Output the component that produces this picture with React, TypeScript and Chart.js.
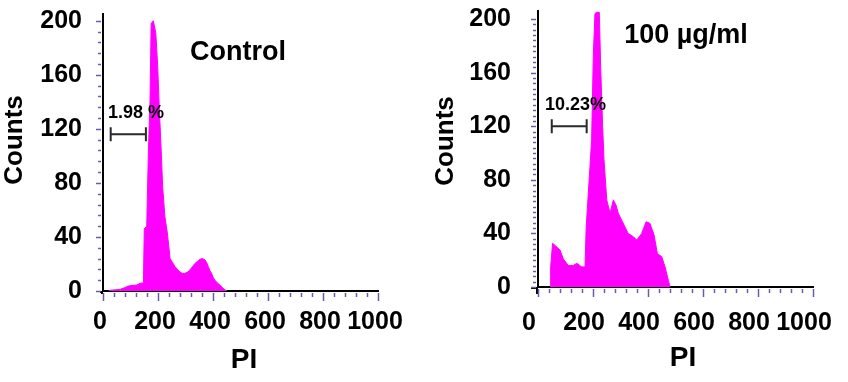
import React, { useEffect, useRef } from 'react';
import { Chart, registerables } from 'chart.js';

Chart.register(...registerables);

// ---- Data ----
const xTickValues = [0, 200, 400, 600, 800, 1000];
const yTickValues = [0, 40, 80, 120, 160, 200];

const piControl = [20, 25, 40, 62, 80, 92, 110, 122, 135, 147, 150, 159, 165, 171, 175, 183, 192, 199, 205, 211, 217, 225, 234, 244, 253, 262, 271, 280, 289, 298, 307, 316, 325, 335, 344, 353, 362, 371, 377, 383, 389, 395, 401, 407, 416, 425, 434, 444, 452];
const countsControl = [0, 0.5, 0.8, 1.2, 2.5, 3.7, 4.2, 4.4, 5.7, 6, 46, 48, 103, 141, 198, 200, 191, 166, 134, 107, 77, 55, 43, 24, 21, 18, 16, 14, 13, 13, 14, 15.6, 18, 20.5, 22, 23.5, 24, 23, 21, 18, 15, 13, 10, 8, 6, 4.4, 2.5, 0.7, 0];

const pi100 = [44, 46, 53, 62, 80, 92, 110, 128, 141, 159, 171, 175, 189, 195, 201, 207, 213, 223, 228, 235, 240, 250, 262, 274, 284, 292, 304, 316, 328, 347, 359, 377, 393, 407, 422, 434, 450, 462, 474, 480];
const counts100 = [0, 15, 32.6, 31, 27.6, 21, 16, 16, 17.7, 15, 15, 43.8, 90, 110, 172, 204, 205, 205, 164, 120, 95, 65, 55, 65, 61, 55, 50, 45, 40, 37.5, 35, 40, 48.7, 47.5, 38.8, 25, 22.6, 15, 5, 0];

const panelTitles = ['Control', '100 µg/ml'];
const gateLabels = ['1.98 %', '10.23%'];
const gateRanges = [[28, 156, 116], [50, 177, 120]]; // PI from, PI to, count level
const gateTextAnchors = [[18, 128], [25, 132]]; // PI, count
const titleAnchors = [[491, 171], [538, 182]]; // PI, count
const xTitle = 'PI';
const yTitle = 'Counts';

const FONT = '"Liberation Sans", Arial, Helvetica, sans-serif';
const MAGENTA = '#ff00ff';

type Panel = {
  pi: number[];
  counts: number[];
  idx: number;
  yMax: number;
  padTop: number;
  padRight: number;
  yWidth: number;
  xHeight: number;
  yTickPad: number;
  xTickPad: number;
  xLabelOffset: number;
  yMinor: number;
  countsAt: [number, number];
  piAt: [number, number];
  overshoot: number;
};

const panels: Panel[] = [
  {
    pi: piControl, counts: countsControl, idx: 0,
    yMax: 205, padTop: 14, padRight: 46, yWidth: 103, xHeight: 91,
    yTickPad: 21, xTickPad: 16, xLabelOffset: -3, yMinor: 8,
    countsAt: [15, 140], piAt: [244, 360], overshoot: 3,
  },
  {
    pi: pi100, counts: counts100, idx: 1,
    yMax: 206, padTop: 11, padRight: 35, yWidth: 114, xHeight: 95,
    yTickPad: 27, xTickPad: 21, xLabelOffset: -9, yMinor: 4,
    countsAt: [22, 141], piAt: [259, 358], overshoot: 7,
  },
];

const decorPlugin = {
  id: 'decor',
  afterDraw(chart: any, _args: any, opts: any) {
    const p: Panel = opts.panel;
    const { ctx, chartArea: a } = chart;
    const x = chart.scales.x;
    const y = chart.scales.y;
    ctx.save();

    // axis overshoot (origin cross)
    ctx.strokeStyle = '#000';
    ctx.lineWidth = 2;
    ctx.beginPath();
    ctx.moveTo(a.left - p.overshoot, a.bottom + 1);
    ctx.lineTo(a.left, a.bottom + 1);
    ctx.moveTo(a.left - 1, a.bottom);
    ctx.lineTo(a.left - 1, a.bottom + p.overshoot);
    ctx.stroke();

    // minor/major ticks on x
    ctx.strokeStyle = '#6b5bb0';
    ctx.lineWidth = 1.5;
    for (let v = 0; v <= 1000; v += 40) {
      const px = Math.round(x.getPixelForValue(v)) + 0.5;
      const major = v % 200 === 0;
      ctx.beginPath();
      ctx.moveTo(px, a.bottom + 2);
      ctx.lineTo(px, a.bottom + (major ? 10 : 6));
      ctx.stroke();
    }
    // minor ticks on y
    for (let v = 0; v <= 200; v += p.yMinor) {
      const py = Math.round(y.getPixelForValue(v)) + 0.5;
      const major = v % 40 === 0;
      ctx.beginPath();
      ctx.moveTo(a.left - 2, py);
      ctx.lineTo(a.left - (major ? 7 : 5), py);
      ctx.stroke();
    }

    // axis titles
    ctx.fillStyle = '#000';
    ctx.textAlign = 'center';
    ctx.textBaseline = 'middle';
    ctx.font = `bold 26px ${FONT}`;
    ctx.save();
    ctx.translate(p.countsAt[0], p.countsAt[1]);
    ctx.rotate(-Math.PI / 2);
    ctx.fillText(yTitle, 0, 0);
    ctx.restore();
    ctx.font = `bold 28px ${FONT}`;
    ctx.fillText(xTitle, p.piAt[0], p.piAt[1]);

    // panel title
    const t = titleAnchors[p.idx];
    ctx.textBaseline = 'alphabetic';
    ctx.font = `bold 27px ${FONT}`;
    ctx.fillText(panelTitles[p.idx], x.getPixelForValue(t[0]), y.getPixelForValue(t[1]));

    // gate label
    const g = gateTextAnchors[p.idx];
    ctx.textAlign = 'left';
    ctx.font = `bold 18px ${FONT}`;
    ctx.fillText(gateLabels[p.idx], x.getPixelForValue(g[0]), y.getPixelForValue(g[1]));

    // gate bracket
    const r = gateRanges[p.idx];
    const x0 = x.getPixelForValue(r[0]);
    const x1 = x.getPixelForValue(r[1]);
    const gy = y.getPixelForValue(r[2]);
    ctx.strokeStyle = '#2a2a2a';
    ctx.lineWidth = 2;
    ctx.beginPath();
    ctx.moveTo(x0, gy);
    ctx.lineTo(x1, gy);
    ctx.moveTo(x0, gy - 7);
    ctx.lineTo(x0, gy + 7);
    ctx.moveTo(x1, gy - 7);
    ctx.lineTo(x1, gy + 7);
    ctx.stroke();

    ctx.restore();
  },
};

function Histogram({ panel, left }: { panel: Panel; left: number }) {
  const ref = useRef<HTMLCanvasElement>(null);
  useEffect(() => {
    const tickFont = { family: FONT, size: 25, weight: 'bold' as const };
    const chart = new Chart(ref.current as HTMLCanvasElement, {
      type: 'line',
      data: {
        datasets: [
          {
            data: panel.pi.map((v, i) => ({ x: v, y: panel.counts[i] })),
            borderColor: MAGENTA,
            backgroundColor: MAGENTA,
            borderWidth: 1,
            pointRadius: 0,
            tension: 0,
            fill: 'origin',
          },
        ],
      },
      options: {
        responsive: false,
        animation: false,
        events: [],
        layout: { padding: { top: panel.padTop, right: panel.padRight, left: 0, bottom: 0 } },
        plugins: {
          legend: { display: false },
          tooltip: { enabled: false },
          decor: { panel },
        } as any,
        scales: {
          x: {
            type: 'linear',
            min: 0,
            max: 1000,
            grid: { display: false, drawTicks: false },
            border: { display: true, color: '#000', width: 2 },
            ticks: {
              autoSkip: false,
              maxRotation: 0,
              padding: panel.xTickPad,
              labelOffset: panel.xLabelOffset,
              color: '#000',
              font: tickFont,
              callback: (v: any) => String(v),
            },
            afterBuildTicks: (s: any) => {
              s.ticks = xTickValues.map((v) => ({ value: v }));
            },
            afterFit: (s: any) => {
              s.height = panel.xHeight;
              s.paddingLeft = 0;
              s.paddingRight = 0;
            },
          },
          y: {
            type: 'linear',
            min: 0,
            max: panel.yMax,
            grid: { display: false, drawTicks: false },
            border: { display: true, color: '#000', width: 2 },
            ticks: {
              padding: panel.yTickPad,
              color: '#000',
              font: tickFont,
              callback: (v: any) => String(v),
            },
            afterBuildTicks: (s: any) => {
              s.ticks = yTickValues.map((v) => ({ value: v }));
            },
            afterFit: (s: any) => {
              s.width = panel.yWidth;
              s.paddingTop = 0;
              s.paddingBottom = 0;
            },
          },
        },
      },
      plugins: [decorPlugin],
    } as any);
    return () => chart.destroy();
  }, [panel]);
  return (
    <canvas
      ref={ref}
      width={424}
      height={382}
      style={{ position: 'absolute', left, top: 0, width: 424, height: 382 }}
    />
  );
}

export default function App() {
  return (
    <div style={{ position: 'fixed', left: 0, top: 0, width: 848, height: 382, background: '#fff' }}>
      <Histogram panel={panels[0]} left={0} />
      <Histogram panel={panels[1]} left={424} />
    </div>
  );
}
